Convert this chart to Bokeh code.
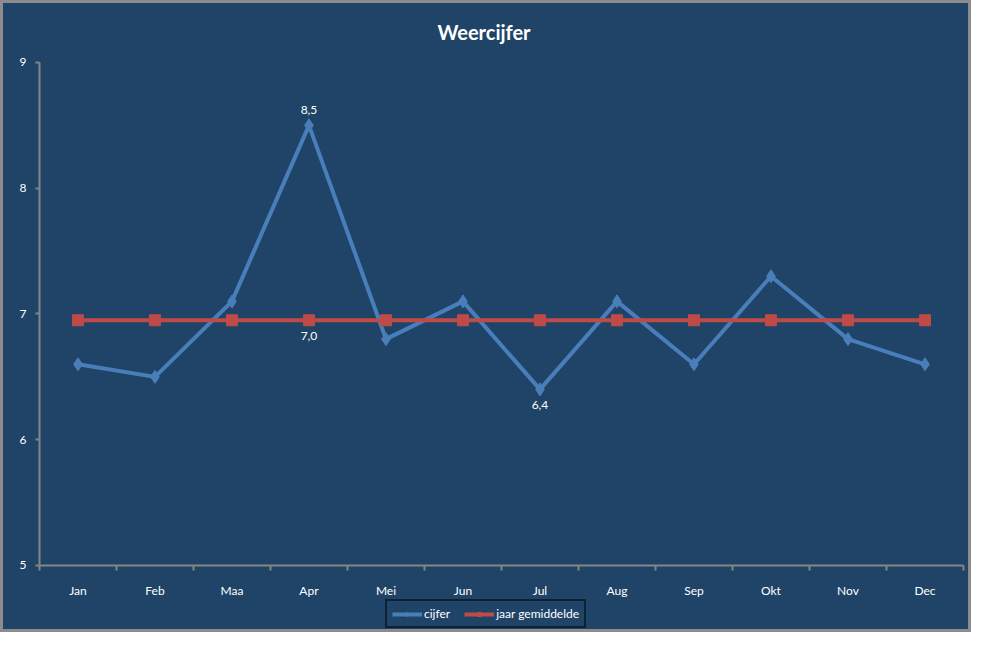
from bokeh.plotting import figure
from bokeh.models import FixedTicker, Legend, LegendItem, Range1d, Label
from bokeh.core.properties import value
from bokeh.embed import file_html
from bokeh.resources import INLINE

maanden = ["Jan", "Feb", "Maa", "Apr", "Mei", "Jun", "Jul", "Aug", "Sep", "Okt", "Nov", "Dec"]
cijfer = [6.6, 6.5, 7.1, 8.5, 6.8, 7.1, 6.4, 7.1, 6.6, 7.3, 6.8, 6.6]
jaar_gemiddelde = [6.95] * 12
y_ticks = [5, 6, 7, 8, 9]

BG = "#1F4467"
BLAUW = "#4A7EBB"
ROOD = "#BE4B48"
GRIJS = "#868686"
FONT = "Lato"

W, H = 971, 632
x = [i + 0.5 for i in range(len(maanden))]

# the frame fills the whole figure; axes are pinned inside it
p = figure(width=W, height=H, output_backend="svg", toolbar_location=None,
           x_range=Range1d(-0.506, 12.104), y_range=Range1d(4.467, 9.493),
           min_border=0)
p.background_fill_color = BG
p.border_fill_color = BG
p.outline_line_color = "#8C8C8C"
p.outline_line_width = 5
p.grid.visible = False

xax = p.xaxis[0]
xax.fixed_location = 5
xax.bounds = (0, 12)
xax.ticker = FixedTicker(ticks=x, minor_ticks=list(range(13)))
xax.major_label_overrides = {xi: m for xi, m in zip(x, maanden)}
xax.major_tick_line_color = None
xax.minor_tick_line_color = GRIJS
xax.minor_tick_line_width = 2
xax.minor_tick_out = 5
xax.minor_tick_in = 0
xax.axis_line_color = GRIJS
xax.axis_line_width = 2
xax.major_label_standoff = 12
xax.major_label_text_color = "white"
xax.major_label_text_font = FONT
xax.major_label_text_font_size = "12px"

yax = p.yaxis[0]
yax.fixed_location = 0
yax.bounds = (5, 9)
yax.ticker = FixedTicker(ticks=y_ticks)
yax.major_tick_line_color = GRIJS
yax.major_tick_line_width = 2
yax.major_tick_out = 4
yax.major_tick_in = 0
yax.minor_tick_line_color = None
yax.axis_line_color = GRIJS
yax.axis_line_width = 2
yax.major_label_standoff = 9
yax.major_label_text_color = "white"
yax.major_label_text_font = FONT
yax.major_label_text_font_size = "12px"

p.add_layout(Label(x=W / 2 - 2, y=H - 31, x_units="screen", y_units="screen", text="Weercijfer",
                   text_align="center", text_baseline="middle", text_color="white",
                   text_font=FONT, text_font_size="20px", text_font_style="bold"))

l1 = p.line(x, cijfer, line_color=BLAUW, line_width=4)
s1 = p.scatter(x, cijfer, marker="diamond", size=13, fill_color=BLAUW, line_color=BLAUW)
l2 = p.line(x, jaar_gemiddelde, line_color=ROOD, line_width=4)
s2 = p.scatter(x, jaar_gemiddelde, marker="square", size=11, fill_color=ROOD, line_color=ROOD)


def fmt(v):
    return f"{v + 1e-9:.1f}".replace(".", ",")


# data labels: maximum and minimum of cijfer, average at Apr
i_max = cijfer.index(max(cijfer))
i_min = cijfer.index(min(cijfer))
p.text([x[i_max]], [cijfer[i_max]], text=[fmt(cijfer[i_max])], y_offset=-11,
       text_align="center", text_baseline="bottom", text_color="white",
       text_font=value(FONT), text_font_size="12px")
p.text([x[i_min]], [cijfer[i_min]], text=[fmt(cijfer[i_min])], y_offset=12,
       text_align="center", text_baseline="top", text_color="white",
       text_font=value(FONT), text_font_size="12px")
p.text([x[i_max]], [jaar_gemiddelde[i_max]], text=[fmt(jaar_gemiddelde[i_max])], y_offset=12,
       text_align="center", text_baseline="top", text_color="white",
       text_font=value(FONT), text_font_size="12px")

legend = Legend(items=[LegendItem(label="cijfer", renderers=[l1, s1]),
                       LegendItem(label="jaar gemiddelde", renderers=[l2, s2])],
                orientation="horizontal", location=(385, 4))
legend.background_fill_color = BG
legend.background_fill_alpha = 1
legend.border_line_color = "black"
legend.border_line_width = 2
legend.label_text_color = "white"
legend.label_text_font = FONT
legend.label_text_font_size = "12px"
legend.label_height = 12
legend.glyph_width = 30
legend.glyph_height = 10
legend.spacing = 14
legend.padding = 5
legend.margin = 0
legend.label_standoff = 2
p.add_layout(legend, "center")

open("out.html", "w").write(file_html(p, INLINE))
